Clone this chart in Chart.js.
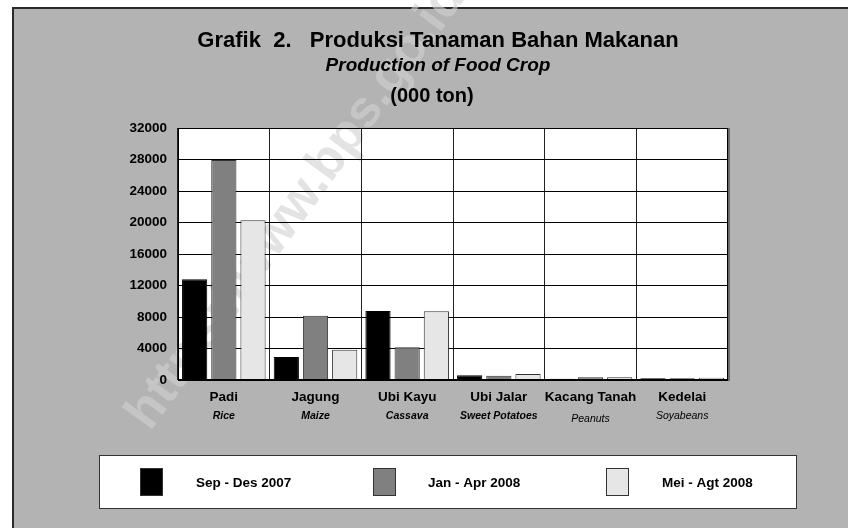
<!DOCTYPE html>
<html>
<head>
<meta charset="utf-8">
<script src="https://cdn.jsdelivr.net/npm/chart.js@4.4.1/dist/chart.umd.min.js"></script>
<style>
  html, body { margin: 0; padding: 0; background: #fff; }
  #wrap { width: 848px; height: 528px; }
</style>
</head>
<body>
<div id="wrap"><canvas id="chart" width="848" height="528"></canvas></div>
<script>
const categories = ["Padi", "Jagung", "Ubi Kayu", "Ubi Jalar", "Kacang Tanah", "Kedelai"];
const englishNames = ["Rice", "Maize", "Cassava", "Sweet Potatoes", "Peanuts", "Soyabeans"];
const seriesLabels = ["Sep - Des 2007", "Jan - Apr 2008", "Mei - Agt 2008"];
const sepDes2007 = [12800, 2920, 8760, 600, 170, 210];
const janApr2008 = [27950, 8170, 4150, 550, 340, 210];
const meiAgt2008 = [20280, 3850, 8720, 760, 340, 290];
const yMin = 0, yMax = 32000, yStep = 4000;

const FONT = "'Liberation Sans', Arial, Helvetica, sans-serif";
const PANEL = "#b3b3b3";

const panelPlugin = {
  id: "panel",
  beforeDraw(chart) {
    const { ctx, chartArea: a } = chart;
    ctx.save();
    ctx.fillStyle = "#fff";
    ctx.fillRect(0, 0, chart.width, chart.height);
    ctx.fillStyle = PANEL;
    ctx.fillRect(13, 8, chart.width - 13, chart.height - 8);
    ctx.strokeStyle = "#2a2a2a";
    ctx.lineWidth = 2;
    ctx.beginPath();
    ctx.moveTo(13, chart.height);
    ctx.lineTo(13, 8);
    ctx.lineTo(chart.width, 8);
    ctx.stroke();
    // plot background
    ctx.fillStyle = "#fff";
    ctx.fillRect(a.left, a.top, a.right - a.left, a.bottom - a.top);
    // watermark
    ctx.translate(150, 432);
    ctx.rotate(-54 * Math.PI / 180);
    ctx.font = "bold 52px " + FONT;
    ctx.fillStyle = "rgba(208,208,208,0.6)";
    ctx.textBaseline = "alphabetic";
    ctx.fillText("https://www.bps.go.id", 0, 0);
    ctx.restore();
  },
  afterDraw(chart) {
    const { ctx, chartArea: a } = chart;
    const xs = chart.scales.x;
    ctx.save();
    // plot frame
    ctx.strokeStyle = "#000";
    ctx.lineWidth = 1;
    ctx.strokeRect(a.left + 0.5, a.top + 0.5, a.right - a.left - 1, a.bottom - a.top - 1);
    ctx.strokeStyle = "#6a6a6a";
    ctx.lineWidth = 2;
    ctx.beginPath();
    ctx.moveTo(a.right + 1, a.top);
    ctx.lineTo(a.right + 1, a.bottom + 1);
    ctx.stroke();

    // english category names under the main labels
    ctx.fillStyle = "#000";
    ctx.textAlign = "center";
    ctx.textBaseline = "middle";
    englishNames.forEach((name, i) => {
      const w = i < 4 ? "bold" : "normal";
      ctx.font = "italic " + w + " 10.5px " + FONT;
      ctx.fillText(name, xs.getPixelForValue(i), i === 4 ? 419 : 416);
    });

    // titles
    const cx = 438;
    ctx.textBaseline = "alphabetic";
    ctx.font = "bold 22px " + FONT;
    ctx.fillText("Grafik  2.   Produksi Tanaman Bahan Makanan", cx, 47);
    ctx.font = "italic bold 19px " + FONT;
    ctx.fillText("Production of Food Crop", cx, 71);
    ctx.font = "bold 20px " + FONT;
    ctx.fillText("(000 ton)", 432, 102);

    // legend
    ctx.fillStyle = "#fff";
    ctx.fillRect(99, 455, 698, 54);
    ctx.strokeStyle = "#333";
    ctx.lineWidth = 1;
    ctx.strokeRect(99.5, 455.5, 697, 53);
    const swatchX = [140, 373, 606];
    const textX = [196, 428, 662];
    chart.data.datasets.forEach((ds, i) => {
      ctx.fillStyle = ds.backgroundColor;
      ctx.fillRect(swatchX[i], 468, 23, 28);
      ctx.strokeStyle = "#333";
      ctx.strokeRect(swatchX[i] + 0.5, 468.5, 22, 27);
      ctx.fillStyle = "#000";
      ctx.font = "bold 13.5px " + FONT;
      ctx.textAlign = "left";
      ctx.textBaseline = "middle";
      ctx.fillText(ds.label, textX[i], 483);
    });
    ctx.restore();
  },
};

new Chart(document.getElementById("chart").getContext("2d"), {
  type: "bar",
  data: {
    labels: categories,
    datasets: [
      { label: seriesLabels[0], data: sepDes2007, backgroundColor: "#000000", borderColor: "#000000", borderWidth: 1 },
      { label: seriesLabels[1], data: janApr2008, backgroundColor: "#808080", borderColor: "#333333", borderWidth: 1 },
      { label: seriesLabels[2], data: meiAgt2008, backgroundColor: "#e6e6e6", borderColor: "#333333", borderWidth: 1 },
    ],
  },
  options: {
    responsive: false,
    animation: false,
    categoryPercentage: 0.955,
    barPercentage: 0.864,
    layout: { padding: { left: 100, right: 120, top: 128, bottom: 105 } },
    plugins: {
      legend: { display: false },
      title: { display: false },
      tooltip: { enabled: false },
    },
    scales: {
      x: {
        type: "category",
        position: "bottom",
        grid: { display: true, color: "#222", lineWidth: 1, drawTicks: false, offset: true },
        border: { display: false },
        ticks: { color: "#000", padding: 9, font: { family: FONT, size: 13.5, weight: "bold" }, maxRotation: 0, autoSkip: false },
        afterFit: (s) => { s.height = 43; },
      },
      y: {
        min: yMin,
        max: yMax,
        grid: { color: "#000", lineWidth: 1, drawTicks: false },
        border: { display: false },
        ticks: {
          stepSize: yStep,
          color: "#000",
          padding: 11,
          font: { family: FONT, size: 13.5, weight: "bold" },
          callback: (v) => String(v),
        },
        afterFit: (s) => { s.width = 78; },
      },
    },
  },
  plugins: [panelPlugin],
});
</script>
</body>
</html>
